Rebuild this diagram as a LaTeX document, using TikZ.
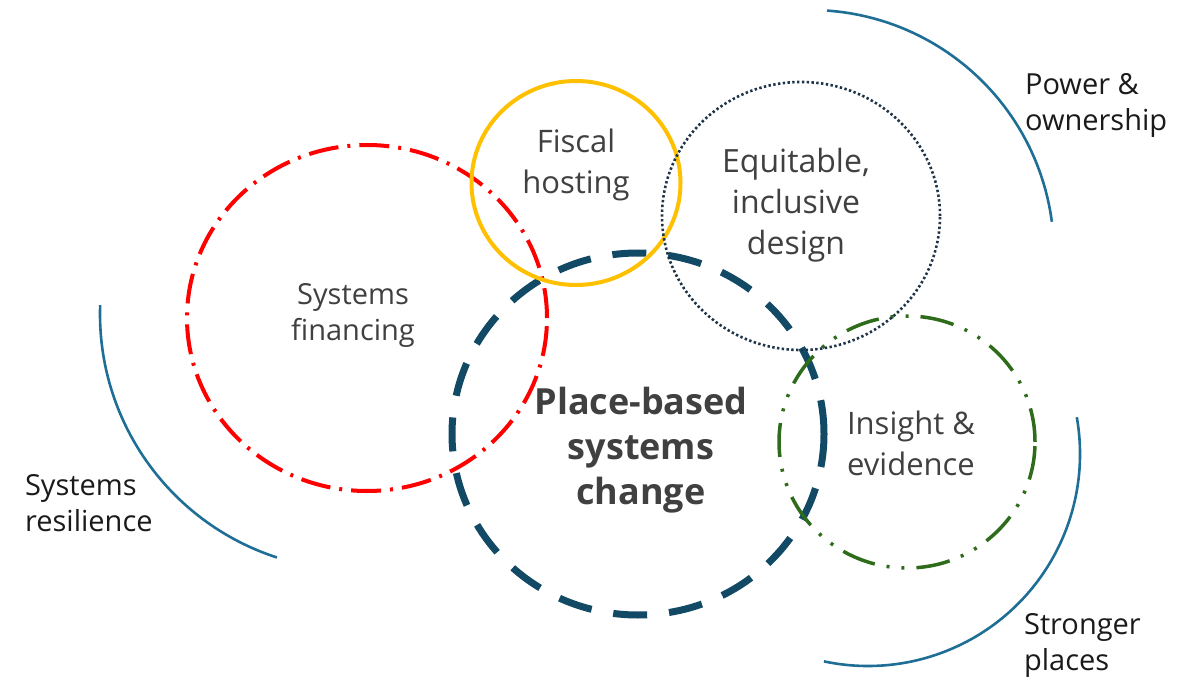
\documentclass[tikz,border=0pt]{standalone}
\usepackage{fontspec}
\setmainfont{Open Sans}
\usepackage{tikz}
\usetikzlibrary{shapes.geometric}
\definecolor{finred}{HTML}{FF0000}
\definecolor{hostgold}{HTML}{FFC000}
\definecolor{designnavy}{HTML}{1E3448}
\definecolor{coreteal}{HTML}{124A66}
\definecolor{insightgreen}{HTML}{2E6B1A}
\definecolor{arcblue}{HTML}{1F6E96}
\definecolor{textgrey}{HTML}{404040}
\definecolor{labelblack}{HTML}{1A1A1A}
\tikzstyle{ring} = [ellipse, inner sep=0pt, outer sep=0pt]
\tikzstyle{inner} = [text=textgrey, align=center, font=\fontsize{15.5}{20.5}\selectfont]
\tikzstyle{outer} = [draw=arcblue, line width=1.3pt]
\tikzstyle{outerlabel} = [text=labelblack, align=left, anchor=west, font=\fontsize{14.5}{18}\selectfont]

\begin{document}
\begin{tikzpicture}[x=0.5pt, y=-0.5pt]
\useasboundingbox (0,0) rectangle (1188,679);

% the five overlapping rings
\node (core) [ring, draw=coreteal, line width=3.5pt, dash pattern=on 17pt off 11pt, minimum width=186pt, minimum height=181pt] at (638,434) {};
\node (financing) [ring, draw=finred, line width=2pt, dash pattern=on 15pt off 4.5pt on 1.5pt off 4.5pt, minimum width=180pt, minimum height=173pt] at (367,318) {};
\node (hosting) [ring, draw=hostgold, line width=2pt, minimum width=104.5pt, minimum height=102pt] at (576,183) {};
\node (insight) [ring, draw=insightgreen, line width=1.75pt, dash pattern=on 17pt off 6pt on 1.5pt off 6pt on 1.5pt off 6pt, minimum width=128pt, minimum height=126pt] at (907,442) {};
\node (design) [ring, draw=designnavy, line width=1.3pt, dash pattern=on 1.2pt off 1.2pt, minimum width=139pt, minimum height=134pt] at (801,216) {};

% ring texts
\node (financingtext) [inner, font=\fontsize{14.5}{18}\selectfont] at (353,315) {Systems\\financing};
\node (hostingtext) [inner] at (576,165) {Fiscal\\hosting};
\node (designtext) [inner, font=\fontsize{16}{20.5}\selectfont] at (796,205) {Equitable,\\inclusive\\design};
\node (insighttext) [inner] at (911,443) {Insight \&\\evidence};
\node (coretext) [inner, font=\bfseries\fontsize{18}{22.5}\selectfont] at (641,450) {Place-based\\systems\\change};

% outer arcs and their labels
\coordinate (powerc) at (810,254);
\coordinate (placesc) at (868,454);
\coordinate (resilc) at (356,314);
\draw [outer] ([shift={(86:122pt)}]powerc) arc[start angle=86, end angle=7.6, radius=122pt];
\draw [outer] ([shift={(10:106pt)}]placesc) arc[start angle=10, end angle=-102, radius=106pt];
\draw [outer] ([shift={(178:128pt)}]resilc) arc[start angle=178, end angle=252, radius=128pt];

\node (power) [outerlabel] at (1018,105) {Power \&\\ownership};
\node (places) [outerlabel] at (1017,645) {Stronger\\places};
\node (resilience) [outerlabel] at (18,503) {Systems\\resilience};

\end{tikzpicture}
\end{document}
